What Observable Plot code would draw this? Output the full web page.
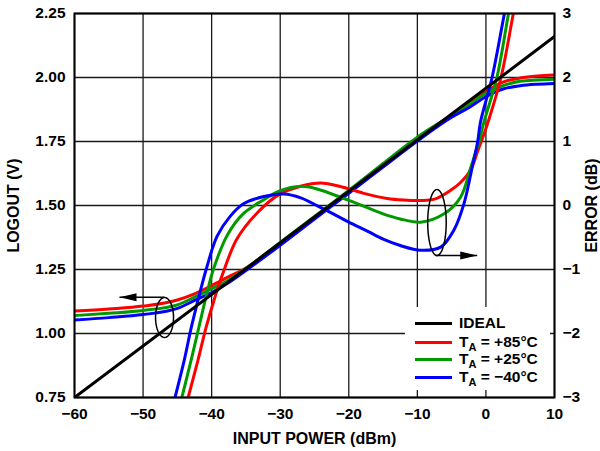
<!DOCTYPE html>
<html><head><meta charset="utf-8">
<script src="https://cdn.jsdelivr.net/npm/d3@7"></script>
<script src="https://cdn.jsdelivr.net/npm/@observablehq/plot@0.6"></script>
<style>
body{margin:0;background:#fff;}
#wrap{position:relative;width:600px;height:451px;font-family:"Liberation Sans",Arial,sans-serif;font-weight:bold;}
#legend{position:absolute;left:405px;top:307px;width:145px;height:83px;background:#fff;}
.item{position:absolute;left:0;height:18px;display:flex;align-items:center;font-size:15.5px;line-height:18px;white-space:nowrap;}
.swatch{width:37px;height:3px;margin-left:10px;margin-right:7px;}
.item sub{font-size:11px;vertical-align:-4px;line-height:0;}
g[aria-label$="axis label"] text{font-size:16px;}
</style></head><body><div id="wrap"></div>
<script>
// ---- axes ----
const xTicks = [-60, -50, -40, -30, -20, -10, 0, 10];
const vTicks = [0.75, 1.00, 1.25, 1.50, 1.75, 2.00, 2.25];
const eTicks = [-3, -2, -1, 0, 1, 2, 3];

// ---- ideal line ----
const idealX = [-60, 10];
const idealV = [0.75, 2.16];

// ---- LOGOUT (V) ----
const logX     = [-60, -55, -50, -45, -42.5, -40, -37.5, -35, -30, -25, -20, -15, -10, -5, -2.5, 0, 2.5, 5, 7.5, 10];
const logRed   = [1.088, 1.096, 1.107, 1.131, 1.155, 1.187, 1.222, 1.256, 1.354, 1.455, 1.556, 1.657, 1.758, 1.853, 1.898, 1.945, 1.982, 1.998, 2.006, 2.010];
const logGreen = [1.070, 1.079, 1.090, 1.112, 1.142, 1.175, 1.209, 1.254, 1.356, 1.457, 1.559, 1.664, 1.767, 1.852, 1.893, 1.938, 1.968, 1.985, 1.990, 1.993];
const logBlue  = [1.053, 1.062, 1.074, 1.098, 1.129, 1.160, 1.199, 1.246, 1.345, 1.447, 1.548, 1.650, 1.752, 1.845, 1.882, 1.925, 1.955, 1.968, 1.974, 1.977];

// ---- ERROR (dB) ----
const errRedX   = [-43.8, -42.0, -40.8, -39.6, -38.4, -36.3, -33.4, -30.2, -27.0, -24.1, -21.0, -17.8, -14.4, -12.0, -9.5, -7.5, -5.2, -3.7, -2.25, -1.2, -0.5, 0.3, 2.2, 4.0, 4.4];
const errRedE   = [-3.15, -2.42, -1.9, -1.46, -1.07, -0.52, -0.12, 0.17, 0.30, 0.35, 0.29, 0.19, 0.11, 0.085, 0.078, 0.10, 0.234, 0.36, 0.55, 0.85, 1.05, 1.3, 2.0, 3.0, 3.2];
const errGreenX = [-44.7, -43.0, -41.9, -40.8, -39.75, -37.7, -35.3, -32.4, -30.0, -27.0, -25.0, -20.0, -15.0, -12.5, -9.5, -6.1, -3.7, -2.2, -1.0, -0.3, 1.6, 3.3, 3.7];
const errGreenE = [-3.15, -2.42, -1.92, -1.42, -1.0, -0.46, -0.12, 0.09, 0.23, 0.30, 0.27, 0.08, -0.13, -0.21, -0.26, -0.13, 0.13, 0.6, 1.0, 1.3, 2.0, 3.0, 3.2];
const errBlueX  = [-45.7, -44.0, -43.0, -41.8, -40.8, -39.2, -37.3, -35.3, -32.4, -29.5, -27.0, -24.5, -22.2, -20.0, -17.3, -14.9, -12.5, -9.5, -6.6, -4.7, -3.2, -2.0, -1.2, -0.8, 0.9, 2.7, 3.1];
const errBlueE  = [-3.15, -2.42, -1.92, -1.40, -1.0, -0.48, -0.17, 0.03, 0.14, 0.18, 0.12, -0.01, -0.135, -0.26, -0.40, -0.53, -0.625, -0.70, -0.65, -0.39, 0.03, 0.6, 1.0, 1.3, 2.0, 3.0, 3.2];

// ---- legend ----
const legendNames = ["IDEAL", "T<sub>A</sub> = +85°C", "T<sub>A</sub> = +25°C", "T<sub>A</sub> = −40°C"];
const colors = ["#000000", "#ff0000", "#009a00", "#0000ff"];

// ---- annotations (callout ellipses + arrows) ----
const ellipseLog = {cx: -46.87, cy: 1.0625, rx: 1.31, ry: 0.078};       // LOGOUT units
const ellipseErr = {cx: -7.14, cy: -0.266, rx: 1.35, ry: 0.516};        // dB units
const arrowLog = {x1: -46.87, x2: -53.44, y: 1.142};                      // V
const arrowErr = {x1: -7.35, x2: -1.27, y: -0.78};                        // dB

// map dB onto the shared vertical scale (right axis)
const toV = e => 1.5 + e * 0.25;
const minus = s => String(s).replace("-", "\u2212");

const series = [
  {c: colors[1], lv: logRed,   ex: errRedX,   ee: errRedE},
  {c: colors[2], lv: logGreen, ex: errGreenX, ee: errGreenE},
  {c: colors[3], lv: logBlue,  ex: errBlueX,  ee: errBlueE}
];

function ellPts(e, toY) {
  const pts = [];
  for (let i = 0; i <= 72; i++) {
    const t = i / 72 * 2 * Math.PI;
    pts.push({x: e.cx + e.rx * Math.cos(t), y: toY(e.cy + e.ry * Math.sin(t))});
  }
  return pts;
}
const headRight = {draw(ctx){ ctx.moveTo(0,0); ctx.lineTo(-17,-4); ctx.lineTo(-17,4); ctx.closePath(); }};
const headLeft  = {draw(ctx){ ctx.moveTo(0,0); ctx.lineTo(17,-4); ctx.lineTo(17,4); ctx.closePath(); }};

const marks = [
  Plot.gridX(xTicks, {stroke: "#1a1a1a", strokeOpacity: 1, strokeWidth: 1.3}),
  Plot.gridY(vTicks, {stroke: "#1a1a1a", strokeOpacity: 1, strokeWidth: 1.3})
];
for (const s of series) {
  marks.push(Plot.line(logX.map((x, i) => ({x, y: s.lv[i]})), {x: "x", y: "y", stroke: s.c, strokeWidth: 3, curve: "monotone-x", clip: true}));
}
for (const s of series) {
  marks.push(Plot.line(s.ex.map((x, i) => ({x, y: toV(s.ee[i])})), {x: "x", y: "y", stroke: s.c, strokeWidth: 3, curve: "catmull-rom", clip: true}));
}
marks.push(Plot.line(idealX.map((x, i) => ({x, y: idealV[i]})), {x: "x", y: "y", stroke: "#000", strokeWidth: 3, clip: true}));
marks.push(Plot.line(ellPts(ellipseLog, v => v), {x: "x", y: "y", stroke: "#000", strokeWidth: 1.5}));
marks.push(Plot.line(ellPts(ellipseErr, toV), {x: "x", y: "y", stroke: "#000", strokeWidth: 1.5}));
marks.push(Plot.link([arrowLog], {x1: "x1", x2: "x2", y1: "y", y2: "y", stroke: "#000", strokeWidth: 1.5}));
marks.push(Plot.link([arrowErr], {x1: "x1", x2: "x2", y1: d => toV(d.y), y2: d => toV(d.y), stroke: "#000", strokeWidth: 1.5}));
marks.push(Plot.dot([arrowLog], {x: "x2", y: "y", symbol: headLeft, fill: "#000", stroke: "none"}));
marks.push(Plot.dot([arrowErr], {x: "x2", y: d => toV(d.y), symbol: headRight, fill: "#000", stroke: "none"}));
marks.push(Plot.frame({stroke: "#000", strokeWidth: 2}));
marks.push(Plot.axisX(xTicks, {tickSize: 0, tickPadding: 10, tickFormat: d => minus(d), label: "INPUT POWER (dBm)", labelAnchor: "center", labelOffset: 46, labelArrow: "none"}));
marks.push(Plot.axisY(vTicks, {anchor: "left", tickSize: 0, tickPadding: 9, tickFormat: d => d.toFixed(2), label: "LOGOUT (V)", labelAnchor: "center", labelOffset: 67, labelArrow: "none"}));
marks.push(Plot.axisY(eTicks.map(toV), {anchor: "right", tickSize: 0, tickPadding: 8, tickFormat: v => minus(Math.round((v - 1.5) / 0.25)), label: "ERROR (dB)", labelAnchor: "center", labelOffset: 42, labelArrow: "none"}));

const chart = Plot.plot({
  width: 600, height: 451,
  marginLeft: 74, marginRight: 46, marginTop: 13, marginBottom: 54,
  x: {domain: [-60, 10]},
  y: {domain: [0.75, 2.25]},
  style: {fontFamily: "'Liberation Sans', Arial, sans-serif", fontSize: "15.5px", fontWeight: "bold", color: "#000", background: "#fff"},
  marks
});
const wrap = document.getElementById("wrap");
wrap.appendChild(chart);

const leg = document.createElement("div");
leg.id = "legend";
const rowTops = [7, 26, 43, 61];
legendNames.forEach((n, i) => {
  const it = document.createElement("div");
  it.className = "item";
  it.style.top = rowTops[i] + "px";
  it.innerHTML = `<span class="swatch" style="background:${colors[i]}"></span><span>${n}</span>`;
  leg.appendChild(it);
});
wrap.appendChild(leg);
</script>
</body></html>
